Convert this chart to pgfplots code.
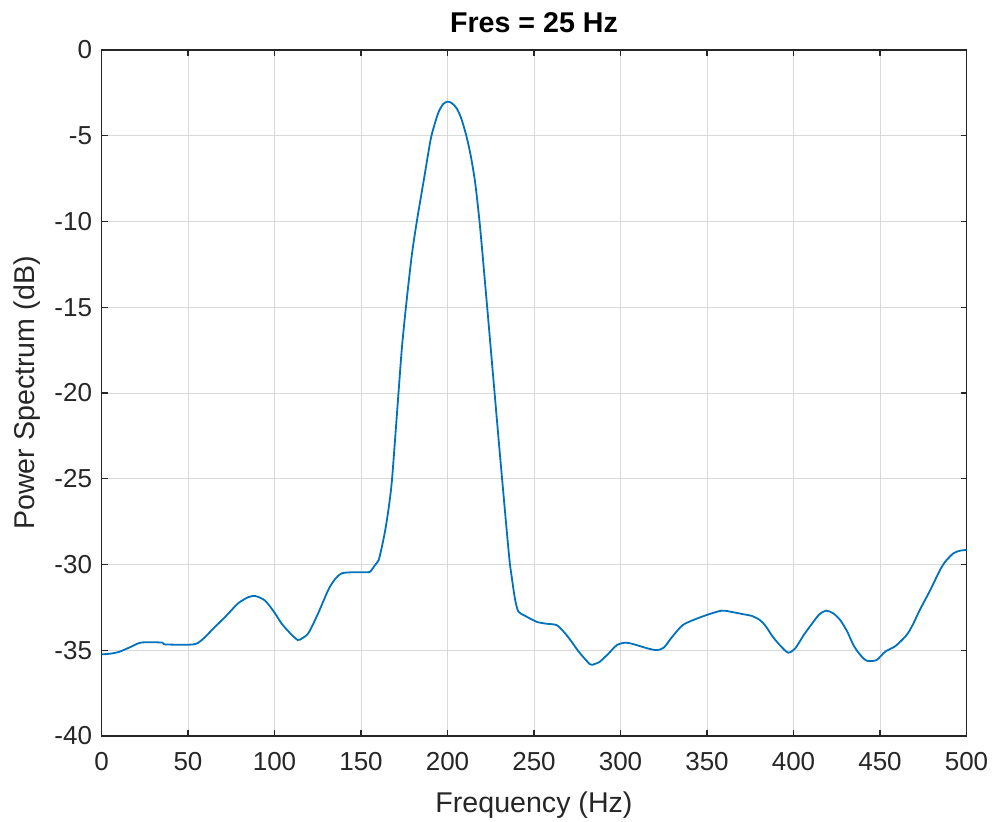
\documentclass[border=0pt]{standalone}
\usepackage{pgfplots}
\pgfplotsset{compat=1.18}
\usepackage{fontspec}
\setmainfont{Liberation Sans}
\definecolor{mblue}{RGB}{0,114,189}
\definecolor{axgray}{RGB}{38,38,38}
\begin{document}
\begin{tikzpicture}
\begin{axis}[
  name=ax,
  scale only axis,
  width=432.5pt, height=343pt,
  xmin=0, xmax=500, ymin=-40, ymax=0,
  xtick={0,50,...,500}, ytick={-40,-35,...,0},
  grid=major,
  grid style={color=black!15, line width=0.5pt},
  axis line style={axgray, line width=0.6pt},
  tick style={axgray, line width=0.6pt},
  tick align=inside,
  major tick length=3pt,
  tick label style={font=\fontsize{13}{15}\selectfont, text=axgray},
  /pgf/number format/assume math mode=true,
  xticklabel style={yshift=-4.5pt},
  yticklabel style={xshift=-1.2pt},
  xlabel={Frequency (Hz)},
  ylabel={Power Spectrum (dB)},
  label style={font=\fontsize{14.3}{16}\selectfont, text=axgray},
  title={Fres = 25 Hz},
  title style={font=\bfseries\fontsize{14.3}{16}\selectfont, yshift=-1pt},
  xlabel style={yshift=-4pt},
  ylabel style={yshift=0pt},
]
\addplot[mblue, line width=0.9pt, smooth, tension=0.45] coordinates {
(0,-35.24) (5,-35.2) (10,-35.1) (17,-34.8) (23,-34.55) (35,-34.55) (37,-34.66)
(53,-34.66) (58,-34.4) (65,-33.7) (72,-33.0) (79,-32.26) (85,-31.9) (89,-31.84)
(94.5,-32.1) (100,-32.8) (104,-33.43) (109,-34.0) (113.4,-34.4) (116,-34.3)
(119.6,-34.0) (125,-32.9) (131,-31.5) (135,-30.85) (139,-30.51) (146,-30.45)
(153,-30.45) (155.3,-30.42) (158,-30.05) (160.2,-29.74) (162,-29.0) (164,-28.0)
(166,-26.7) (167.9,-25.07) (170.8,-21.19) (173.7,-17.3) (176.6,-14.4)
(179.5,-11.86) (182.4,-9.91) (186.3,-7.58) (190.2,-5.25) (192.5,-4.35)
(194.9,-3.6) (197.5,-3.15) (200.1,-3.01) (202.5,-3.1) (205.3,-3.4) (208,-4.0)
(211,-5.05) (213.5,-6.2) (216,-7.75) (218.8,-10.3) (222.7,-14.73)
(226.5,-19.16) (230.3,-23.58) (234.2,-27.99) (236,-29.9) (237.1,-30.71)
(239,-32.0) (241,-32.75) (245,-33.0) (251.5,-33.34) (257,-33.45) (263,-33.53)
(267,-33.9) (271,-34.4) (276,-35.1) (282.4,-35.82) (285,-35.8) (288,-35.67)
(293,-35.2) (298,-34.69) (303.6,-34.56) (311,-34.75) (316,-34.9) (321,-34.99)
(325,-34.85) (330,-34.2) (336,-33.53) (343,-33.2) (350,-32.94) (358.5,-32.69)
(365,-32.78) (371,-32.9) (376,-33.0) (380.6,-33.24) (384,-33.6) (388,-34.21)
(393,-34.8) (397,-35.14) (401,-34.89) (406,-34.1) (411.5,-33.34) (415,-32.9)
(419,-32.69) (423,-32.85) (427,-33.24) (431,-33.9) (434.6,-34.69) (438,-35.2)
(442.3,-35.61) (448,-35.57) (453,-35.08) (459,-34.75) (465.4,-34.11)
(469,-33.5) (473,-32.65) (479,-31.5) (484.7,-30.32) (488,-29.8) (492.4,-29.35)
(496,-29.2) (500,-29.15)
};
\end{axis}
\pgfresetboundingbox
\path[use as bounding box] ([shift={(-50.75pt,-42.5pt)}]ax.south west) rectangle ([shift={(13.25pt,25pt)}]ax.north east);
\end{tikzpicture}
\end{document}
